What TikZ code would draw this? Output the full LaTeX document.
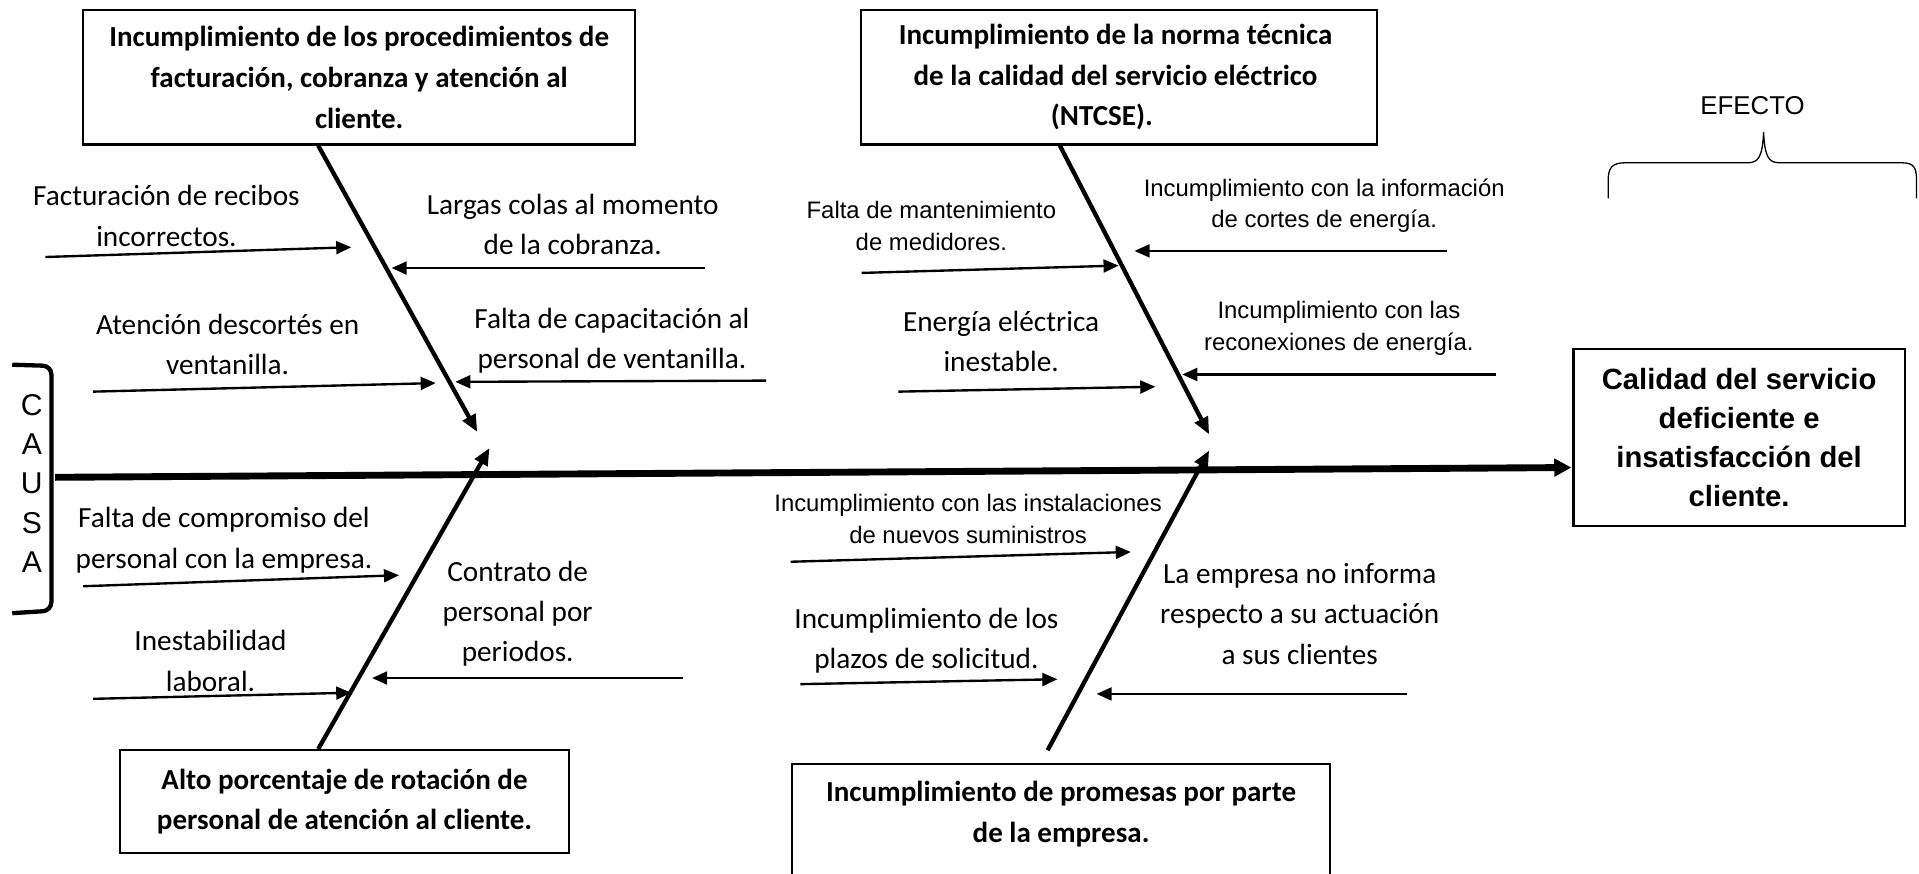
\documentclass[tikz,border=0pt]{standalone}
\usepackage{fontspec}
\setmainfont{Carlito}
\newfontfamily\arialf{Liberation Sans}
\usetikzlibrary{arrows.meta}
\begin{document}
\begin{tikzpicture}[x=0.02cm,y=-0.02cm,
  cbox/.style={draw, line width=1.1pt, align=center, inner sep=0pt, font=\bfseries\fontsize{13.5}{19}\selectfont},
  lab/.style={align=center, inner sep=0pt, font=\fontsize{13.6}{18.8}\selectfont},
  alab/.style={align=center, inner sep=0pt, font=\arialf\fontsize{11.1}{14.8}\selectfont},
  sarrow/.style={line width=1.1pt, -{Triangle[length=7pt,width=6pt]}},
  bone/.style={line width=2pt, -{Triangle[length=8pt,width=6.5pt]}},
  spine/.style={line width=3.2pt, -{Triangle[length=8pt,width=8pt]}}]
\useasboundingbox (0,0) rectangle (1568,714);
\clip (0,0) rectangle (1568,714);
% category boxes
\node[cbox, minimum width=9.02cm, minimum height=2.2cm] (b1) at (293.5,63)
  {Incumplimiento de los procedimientos de\\facturación, cobranza y atención al\\cliente.};
\node[draw, line width=1.1pt, inner sep=0pt, minimum width=8.43cm, minimum height=2.2cm] (b2) at (914.3,63) {};
\node[align=center, inner sep=0pt, font=\bfseries\fontsize{13.5}{19}\selectfont] (b2t) at (911.5,63)
  {Incumplimiento de la norma técnica\\de la calidad del servicio eléctrico\\(NTCSE).\hspace*{0.45cm}};
\node[cbox, minimum width=7.34cm, minimum height=1.68cm] (b3) at (281.5,655)
  {Alto porcentaje de rotación de\\personal de atención al cliente.};
\node[draw, line width=1.1pt, inner sep=0pt, minimum width=8.8cm, minimum height=2.32cm] (b4) at (867,682) {};
\node[align=center, inner sep=0pt, font=\bfseries\fontsize{13.5}{19}\selectfont] (b4t) at (867,665.5)
  {Incumplimiento de promesas por parte\\de la empresa.};
\node[draw, line width=1.1pt, align=center, inner sep=0pt, minimum width=5.42cm, minimum height=2.9cm,
  font=\arialf\bfseries\fontsize{13.6}{18.2}\selectfont] (b5) at (1421,357.5)
  {Calidad del servicio\\deficiente e\\insatisfacción del\\cliente.};
% effect label and brace
\node[inner sep=0pt, font=\arialf\fontsize{12}{14}\selectfont] (efecto) at (1432,86) {EFECTO};
\draw[line width=0.6pt] (1314,162) -- (1314,148) .. controls (1314,137) and (1317,133) .. (1328,133)
  -- (1428,133) .. controls (1437,133) and (1440,128) .. (1441,108)
  .. controls (1442,128) and (1445,133) .. (1454,133) -- (1554,133)
  .. controls (1564,133) and (1566,137) .. (1566,148) -- (1566,162);
% causa bracket
\node[align=center, inner sep=0pt, font=\arialf\fontsize{14}{18.2}\selectfont] (causa) at (26,395) {C\\A\\U\\S\\A};
\draw[line width=2pt, rounded corners=4pt] (10,298) -- (42,299) -- (42,499) -- (10,501);
% spine
\coordinate (sp0) at (45,390);
\coordinate (sp1) at (1284,382);
\draw[spine] (sp0) -- (sp1);
% bones
\coordinate (t1) at (390,353);
\coordinate (t2) at (988,355);
\coordinate (t3) at (400,366);
\coordinate (t4) at (988,368);
\coordinate (s4) at (856,613);
\draw[bone] (b1.south -| 260,0) -- (t1);
\draw[bone] (b2.south -| 866,0) -- (t2);
\draw[bone] (b3.north -| 260,0) -- (t3);
\draw[bone] (s4) -- (t4);
% labels, bone 1
\node[lab] (l1) at (136,176.5) {Facturación de recibos\\incorrectos.};
\node[lab] (l2) at (468,183.5) {Largas colas al momento\\de la cobranza.};
\node[lab] (l3) at (186,281.5) {Atención descortés en\\ventanilla.};
\node[lab] (l4) at (500,278.5) {Falta de capacitación al\\personal de ventanilla.};
% labels, bone 2
\node[alab] (l5) at (761,184.5) {Falta de mantenimiento\\de medidores.};
\node[alab] (l6) at (1082,168) {Incumplimiento con la información\\de cortes de energía.};
\node[lab] (l7) at (818,279) {Energía eléctrica\\inestable.};
\node[alab] (l8) at (1094,268) {Incumplimiento con las\\reconexiones de energía.};
% labels, bone 3
\node[lab] (l9) at (183,441.5) {Falta de compromiso del\\personal con la empresa.};
\node[lab] (l10) at (172,540) {Inestabilidad\\laboral.};
\node[lab] (l11) at (423,501.5) {Contrato de\\personal por\\periodos.};
% labels, bone 4
\node[alab] (l12) at (791,424) {Incumplimiento con las instalaciones\\de nuevos suministros};
\node[lab] (l13) at (757,523.5) {Incumplimiento de los\\plazos de solicitud.};
\node[lab] (l14) at (1062,501.5) {La empresa no informa\\respecto a su actuación\\a sus clientes};
% small arrows
\coordinate (a1s) at (37,210);   \coordinate (a1e) at (287,202);
\coordinate (a2s) at (576,219);  \coordinate (a2e) at (320,219);
\coordinate (a3s) at (76,320);   \coordinate (a3e) at (356,313);
\coordinate (a4s) at (626,311);  \coordinate (a4e) at (372,312);
\coordinate (a5s) at (704,223);  \coordinate (a5e) at (914,217);
\coordinate (a6s) at (1182,205); \coordinate (a6e) at (927,205);
\coordinate (a7s) at (734,320);  \coordinate (a7e) at (944,316);
\coordinate (a8s) at (1222,306); \coordinate (a8e) at (966,306);
\coordinate (a9s) at (68,479);   \coordinate (a9e) at (326,470);
\coordinate (a10s) at (76,571);  \coordinate (a10e) at (287,566);
\coordinate (a11s) at (558,554); \coordinate (a11e) at (304,554);
\coordinate (a12s) at (646,459); \coordinate (a12e) at (924,451);
\coordinate (a13s) at (654,559); \coordinate (a13e) at (864,555);
\coordinate (a14s) at (1150,567);\coordinate (a14e) at (896,567);
\foreach \i in {1,...,14} {\draw[sarrow] (a\i s) -- (a\i e);}
\end{tikzpicture}
\end{document}
